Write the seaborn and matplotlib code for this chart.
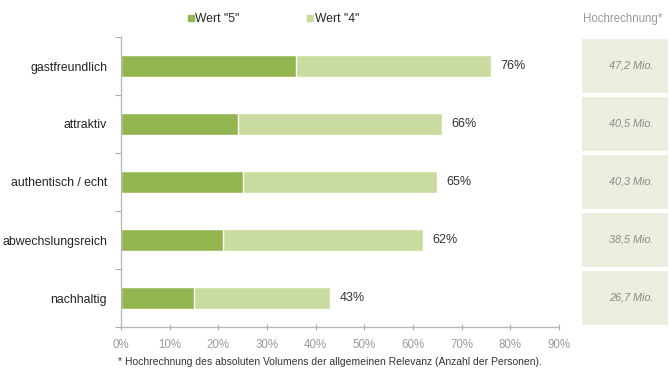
import matplotlib
matplotlib.use("Agg")
import matplotlib.pyplot as plt
import seaborn as sns
import pandas as pd
from matplotlib.lines import Line2D

categories = ["gastfreundlich", "attraktiv", "authentisch / echt", "abwechslungsreich", "nachhaltig"]
wert5 = [36, 24, 25, 21, 15]
wert4 = [40, 42, 40, 41, 28]
totals = [76, 66, 65, 62, 43]
hochrechnung = ["47,2 Mio.", "40,5 Mio.", "40,3 Mio.", "38,5 Mio.", "26,7 Mio."]
xticks = [0, 10, 20, 30, 40, 50, 60, 70, 80, 90]

sns.set_theme(style="white")
plt.rcParams["font.family"] = ["Liberation Sans", "DejaVu Sans"]
plt.rcParams["xtick.bottom"] = True
plt.rcParams["ytick.left"] = True

dark = "#93b550"
light = "#c9db9e"
box = "#edeedf"

df = pd.DataFrame({"cat": categories, "w5": wert5, "w4": wert4})
df["total"] = df["w5"] + df["w4"]

fig = plt.figure(figsize=(6.69, 3.72), dpi=100)
ax = fig.add_axes([121/669, 1-327/372, (559-121)/669, (327-37)/372])

sns.barplot(data=df, x="total", y="cat", color=light, width=0.38, orient="h", ax=ax, saturation=1)
sns.barplot(data=df, x="w5", y="cat", color=dark, width=0.38, orient="h", ax=ax, saturation=1)

for i, t in enumerate(totals):
    ax.text(t + 1.9, i, f"{t}%", va="center", ha="left", fontsize=9, color="#333333")

ax.set_xlim(0, 90)
ax.set_ylim(4.5, -0.5)
ax.set_xticks(xticks)
ax.set_xticklabels([f"{v}%" for v in xticks], fontsize=8.3, color="#9a9a9a")
ax.set_yticks(range(len(categories)))
ax.set_yticklabels(categories, fontsize=8.8, color="#222222")
ax.set_yticks([i - 0.5 for i in range(len(categories) + 1)], minor=True)
ax.tick_params(axis="y", which="major", left=False, length=0, pad=10)
ax.tick_params(axis="y", which="minor", left=True, length=4, width=0.8, color="#aaaaaa", direction="out")
ax.tick_params(axis="x", which="major", bottom=True, length=5, width=0.8, color="#aaaaaa", direction="inout", pad=6)
ax.set_xlabel("")
ax.set_ylabel("")
for s in ["top", "right"]:
    ax.spines[s].set_visible(False)
for s in ["left", "bottom"]:
    ax.spines[s].set_color("#b5b5b5")
    ax.spines[s].set_linewidth(0.9)

# right panel
ax2 = fig.add_axes([582/669, 1-327/372, (668-582)/669, (327-37)/372])
ax2.set_xlim(0, 1)
ax2.set_ylim(4.5, -0.5)
for i, v in enumerate(hochrechnung):
    ax2.axhspan(i - 0.47, i + 0.47, color=box, lw=0)
    ax2.text(0.57, i, v, ha="center", va="center", fontsize=7.8, style="italic", color="#8a8a8a")
ax2.axis("off")

fig.text(583/669, 1-19/372, "Hochrechnung*", fontsize=8.3, color="#999999", ha="left", va="center")

handles = [Line2D([], [], marker="s", ls="", color=dark, markersize=4),
           Line2D([], [], marker="s", ls="", color=light, markersize=4)]
fig.legend(handles, ['Wert "5"', 'Wert "4"'], loc="center", bbox_to_anchor=(273/669, 1-19/372),
           ncol=2, frameon=False, fontsize=8.7, handletextpad=0.05, columnspacing=5.6,
           handlelength=0.6)

fig.text(118/669, 1-362/372, "* Hochrechnung des absoluten Volumens der allgemeinen Relevanz (Anzahl der Personen).",
         fontsize=7.45, color="#333333", ha="left", va="center")

fig.savefig("out.png", dpi=100)
